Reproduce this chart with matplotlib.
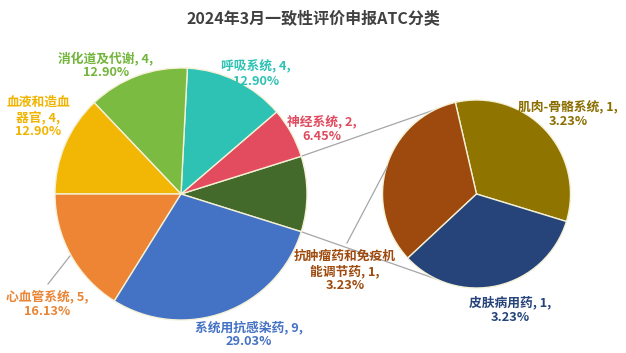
import numpy as np
import matplotlib
matplotlib.use("Agg")
import matplotlib.pyplot as plt

plt.rcParams['font.family'] = ['Noto Sans CJK SC', 'DejaVu Sans']

# main pie categories (the last three are grouped into "other" and shown in the sub pie)
main_names = ['系统用抗感染药', '心血管系统', '血液和造血\n器官', '消化道及代谢', '呼吸系统', '神经系统']
main_counts = [9, 5, 4, 4, 4, 2]
main_colors = ['#4472C4', '#ED8535', '#F2B705', '#7CBB42', '#2EC2B4', '#E34B5E']

sub_names = ['肌肉-骨骼系统', '抗肿瘤药和免疫机\n能调节药', '皮肤病用药']
sub_counts = [1, 1, 1]
sub_colors = ['#8F7400', '#9E4A0E', '#264479']
other_color = '#43692B'

title = '2024年3月一致性评价申报ATC分类'

W, H = 626, 353
total = sum(main_counts) + sum(sub_counts)
other = sum(sub_counts)

fig = plt.figure(figsize=(W / 100, H / 100), dpi=100)
ax = fig.add_axes([0, 0, 1, 1])

def py(y):
    # pixel row (from top) -> data y
    return H - y

edge = dict(edgecolor='#F4F1D6', linewidth=1.0)

# main pie: counterclockwise from the "other" slice centred at 3 o'clock
vals = [other] + main_counts[::-1]
cols = [other_color] + main_colors[::-1]
other_deg = other / total * 360
mc = (181, py(194))
mr = 126
ax.pie(vals, colors=cols, startangle=-other_deg / 2, center=mc, radius=mr,
       wedgeprops=edge, frame=True)

# secondary pie
sc = (476.5, py(194))
sr = 94
ax.pie(sub_counts, colors=sub_colors, startangle=-17, center=sc, radius=sr,
       wedgeprops=edge, frame=True)

# connector lines between the pies
a1, a2 = np.radians(other_deg / 2), np.radians(-other_deg / 2)
for a, b in [(a1, np.radians(102)), (a2, np.radians(245))]:
    ax.plot([mc[0] + mr * np.cos(a), sc[0] + sr * np.cos(b)],
            [mc[1] + mr * np.sin(a), sc[1] + sr * np.sin(b)],
            color='#A6A6A6', lw=0.9, zorder=0)

# leader lines
ax.plot([70, 48], [py(256), py(284)], color='#A6A6A6', lw=0.9)
ax.plot([347, 387], [py(243), py(167)], color='#A6A6A6', lw=0.9)

def label(x, y, name, n, color):
    pct = n / total * 100
    ax.text(x, py(y), f'{name}, {n},\n{pct:.2f}%', ha='center', va='center',
            color=color, fontsize=9.2, fontweight='bold', linespacing=1.1)

label(249, 334, main_names[0], main_counts[0], main_colors[0])
label(47, 304, main_names[1], main_counts[1], '#E98535')
label(38, 117, main_names[2], main_counts[2], '#F0B400')
label(106, 65, main_names[3], main_counts[3], '#72B53A')
label(256, 74, main_names[4], main_counts[4], '#2EC2B4')
label(322, 129, main_names[5], main_counts[5], '#E04A5F')
label(568, 114, sub_names[0], sub_counts[0], '#8A6E00')
label(345, 271, sub_names[1], sub_counts[1], '#9E4A0E')
label(510, 310, sub_names[2], sub_counts[2], '#264479')

ax.text(W / 2, py(18), title, ha='center', va='center', fontsize=11.5,
        fontweight='bold', color='#404040')

ax.set_xlim(0, W)
ax.set_ylim(0, H)
ax.set_aspect('auto')
ax.axis('off')

fig.savefig('out.png', dpi=100, facecolor='white')
